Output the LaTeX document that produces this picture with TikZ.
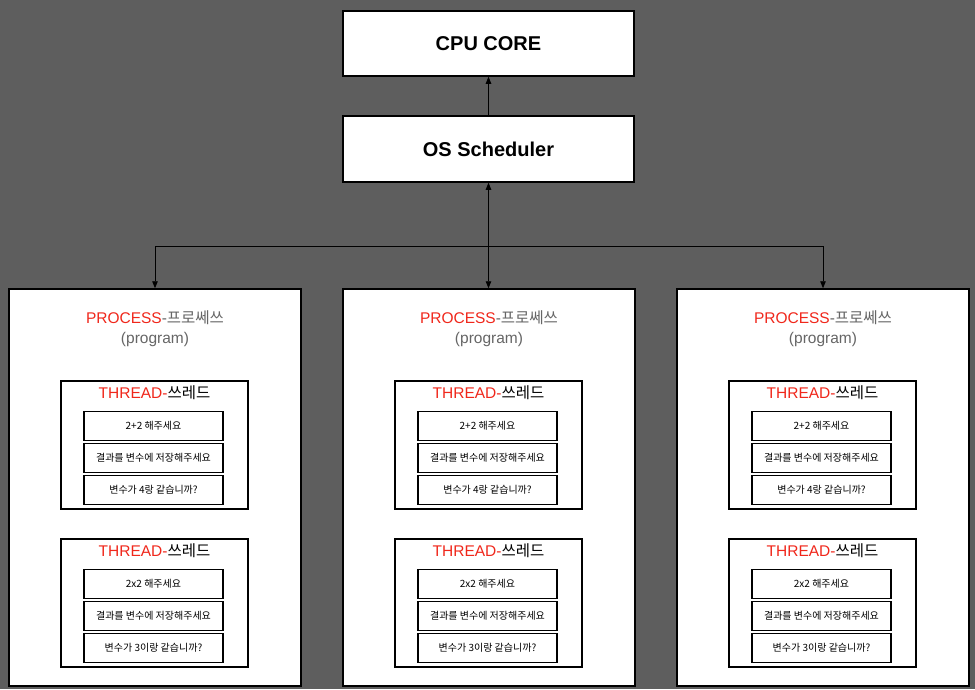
\documentclass[tikz,border=0pt]{standalone}
\usepackage{fontspec}
\setmainfont{Liberation Sans}
\newfontfamily\kr{Noto Sans CJK KR}
\usepackage{xcolor}
\usetikzlibrary{calc,positioning,arrows.meta}
\definecolor{bggray}{HTML}{5E5E5E}
\definecolor{procred}{HTML}{F0271B}
\definecolor{subgray}{HTML}{666666}

\begin{document}
\begin{tikzpicture}[
  x=1pt, y=-1pt,
  topbox/.style={rectangle, draw=black, fill=white, line width=1.5pt,
    minimum width=291pt, minimum height=65pt, font=\fontsize{20}{24}\selectfont\bfseries},
  procbox/.style={rectangle, draw=black, fill=white, line width=1.5pt,
    minimum width=292pt, minimum height=397pt},
  threadbox/.style={rectangle, draw=black, fill=white, line width=1.5pt,
    minimum width=187pt, minimum height=128pt},
  jobbox/.style={rectangle, draw=black, fill=white, line width=1.4pt,
    minimum width=139pt, minimum height=29pt, inner sep=0pt, font=\kr\fontsize{10}{12}\selectfont},
  caption/.style={align=center, inner sep=0pt, font=\fontsize{15.5}{20}\selectfont},
  arr/.style={-{Triangle[length=7pt,width=5.5pt]}, line width=0.9pt, black},
  both/.style={{Triangle[length=7pt,width=5.5pt]}-{Triangle[length=7pt,width=5.5pt]}, line width=0.9pt, black}
]
  \fill[bggray] (0,0) rectangle (975,689);

  % top of the stack
  \node[topbox] (cpu) at (488.5,43.5) {CPU CORE};
  \node[topbox, minimum height=66pt] (os) at (488.5,149) {OS Scheduler};
  \draw[arr] (os) -- (cpu);

  % three processes, two threads each
  \foreach \i/\px in {1/155, 2/489, 3/823} {
    \node[procbox] (p\i) at (\px,487.5) {};
    \node[caption] (p\i cap) at (\px,329)
      {\textcolor{procred}{PROCESS}\textcolor{subgray}{-{\kr 프로쎄쓰}}\\
       \textcolor{subgray}{(program)}};
    \foreach \j/\ty/\op/\ans in {1/380/+/4랑, 2/538/x/3이랑} {
      \node[threadbox, anchor=north] (p\i t\j) at (\px-0.5,\ty) {};
      \node[caption, anchor=center] (p\i t\j cap) at (\px-0.5,\ty+13)
        {\textcolor{procred}{THREAD-}{\kr 쓰레드}};
      \node[jobbox] (p\i t\j a) at (\px-1.5,\ty+46) {2\op2 해주세요};
      \node[jobbox] (p\i t\j b) at (\px-1.5,\ty+78) {결과를 변수에 저장해주세요};
      \node[jobbox] (p\i t\j c) at (\px-1.5,\ty+110) {변수가 \ans{} 같습니까?};
    }
  }

  % scheduler fan-out
  \coordinate (bus) at (os.south |- 0,246);
  \draw[arr] (bus) -| (p1.north);
  \draw[arr] (bus) -| (p3.north);
  \draw[both] (os.south) -- (os.south |- p2.north);
\end{tikzpicture}
\end{document}
